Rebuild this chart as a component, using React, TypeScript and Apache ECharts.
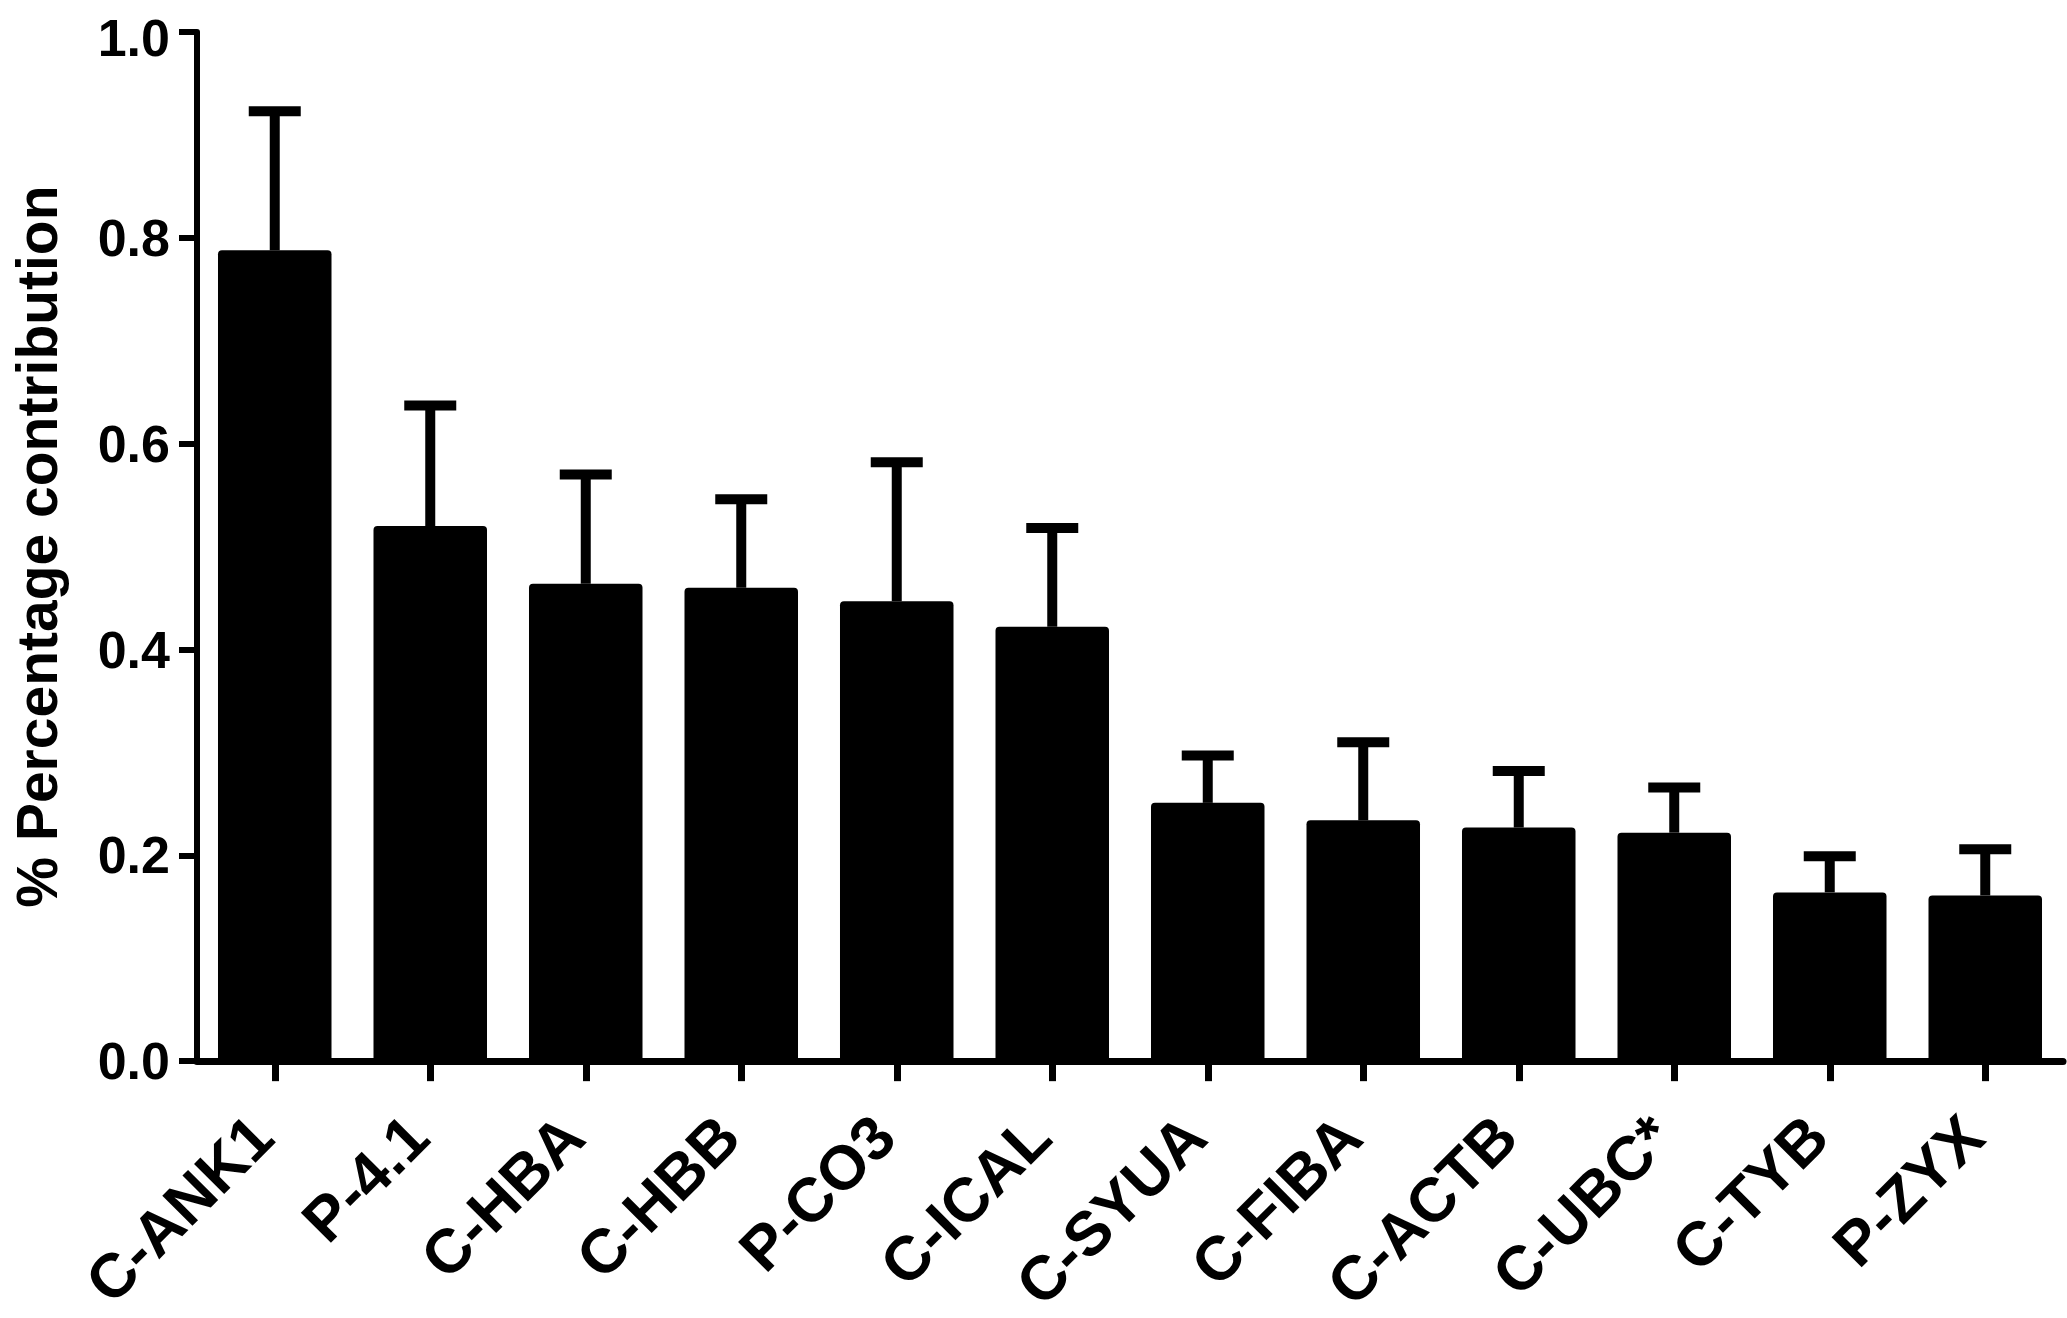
import React, { useEffect, useRef } from "react";
import * as echarts from "echarts";

const categories = ["C-ANK1", "P-4.1", "C-HBA", "C-HBB", "P-CO3", "C-ICAL", "C-SYUA", "C-FIBA", "C-ACTB", "C-UBC*", "C-TYB", "P-ZYX"];
const means = [0.788, 0.52, 0.464, 0.46, 0.447, 0.422, 0.251, 0.234, 0.227, 0.222, 0.164, 0.161];
const errorTops = [0.923, 0.637, 0.57, 0.546, 0.582, 0.518, 0.297, 0.31, 0.282, 0.266, 0.199, 0.206];
const yAxisTitle = "% Percentage contribution";

const FONT = "'Liberation Sans', Arial, Helvetica, sans-serif";

export default function App() {
  const ref = useRef<HTMLDivElement>(null);
  useEffect(() => {
    if (!ref.current) return;
    const chart = echarts.init(ref.current, null, { renderer: "svg" });
    const labelStyle = { color: "#000", fontSize: 52, fontWeight: "bold", fontFamily: FONT };
    const option: any = {
      animation: false,
      backgroundColor: "#ffffff",
      grid: { left: 184, top: 23, width: 1879, height: 1051, containLabel: false },
      xAxis: {
        type: "category",
        data: categories,
        boundaryGap: true,
        axisLine: { show: true, lineStyle: { color: "#000", width: 7 } },
        axisTick: { show: true, alignWithLabel: true, length: 20, lineStyle: { color: "#000", width: 7 } },
        axisLabel: {
          rotate: 45,
          interval: 0,
          margin: 52,
          padding: [0, 18, 0, 0],
          color: "#000",
          fontSize: 62,
          fontWeight: "bold",
          fontFamily: FONT,
        },
        splitLine: { show: false },
      },
      yAxis: {
        type: "value",
        min: 0,
        max: 1,
        interval: 0.2,
        name: yAxisTitle,
        nameLocation: "middle",
        nameGap: 132,
        nameTextStyle: { color: "#000", fontSize: 57, fontWeight: "bold", fontFamily: FONT },
        axisLine: { show: true, lineStyle: { color: "#000", width: 6 } },
        axisTick: { show: true, length: 18, lineStyle: { color: "#000", width: 6 } },
        axisLabel: {
          margin: 27,
          ...labelStyle,
          lineHeight: 40,
          formatter: (v: number) => (v >= 1 ? "{t|" + v.toFixed(1) + "}" : v.toFixed(1)),
          rich: {
            t: { ...labelStyle, lineHeight: 40, padding: [12, 0, 0, 0] },
          },
        },
        splitLine: { show: false },
      },
      series: [
        {
          type: "bar",
          data: means,
          barWidth: "73%",
          itemStyle: { color: "#000", borderRadius: [4, 4, 0, 0] },
          z: 2,
        },
        {
          type: "custom",
          z: 3,
          data: categories.map((c, i) => [i, errorTops[i], means[i]]),
          encode: { x: 0, y: 1 },
          renderItem: (params: any, api: any) => {
            const idx = api.value(0);
            const top = api.coord([idx, api.value(1)]);
            const base = api.coord([idx, api.value(2)]);
            const half = 26;
            return {
              type: "group",
              children: [
                {
                  type: "line",
                  shape: { x1: top[0], y1: top[1], x2: base[0], y2: base[1] },
                  style: { stroke: "#000", lineWidth: 10 },
                },
                {
                  type: "line",
                  shape: { x1: top[0] - half, y1: top[1], x2: top[0] + half, y2: top[1] },
                  style: { stroke: "#000", lineWidth: 10 },
                },
              ],
            };
          },
        },
      ],
    };
    chart.setOption(option);
    return () => chart.dispose();
  }, []);
  return (
    <div
      ref={ref}
      style={{ position: "absolute", left: 0, top: 0, width: "2067px", height: "1318px", background: "#fff" }}
    />
  );
}
